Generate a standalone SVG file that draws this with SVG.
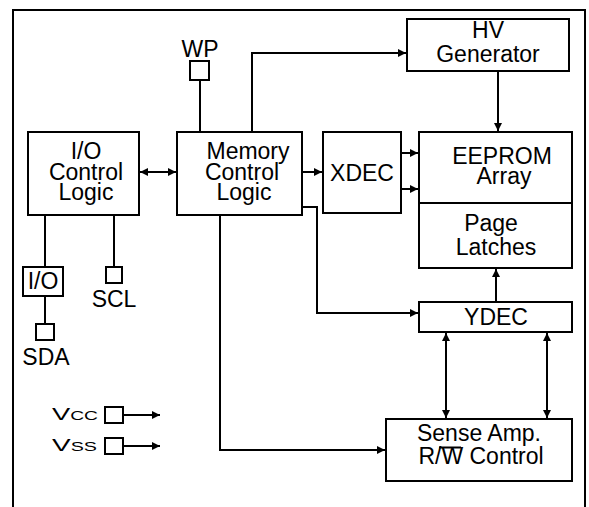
<svg xmlns="http://www.w3.org/2000/svg" width="589" height="507" viewBox="0 0 589 507">
<style>
.box{fill:#fff;stroke:#000;stroke-width:2}
.ln{fill:none;stroke:#000;stroke-width:2}
.t{font-family:"Liberation Sans",Arial,sans-serif;font-size:23px;fill:#000;text-anchor:middle}
.pw{font-family:"Liberation Sans",Arial,sans-serif;font-size:17px;fill:#000;font-variant:small-caps}
</style>
<defs>
<marker id="arr" viewBox="0 0 8 8" refX="8" refY="4" markerWidth="8" markerHeight="8" markerUnits="userSpaceOnUse" orient="auto-start-reverse">
<path d="M0,0 L8,4 L0,8 z" fill="#000"/>
</marker>
</defs>
<rect width="589" height="507" fill="#fff"/>
<path class="ln" d="M13,507 V10 H585 V507"/>
<g id="connectors">
<path class="ln" d="M200,81 V132"/>
<path class="ln" d="M252,132 V53 H406" marker-end="url(#arr)"/>
<path class="ln" d="M498,71 V131" marker-end="url(#arr)"/>
<path class="ln" d="M140,172 H176" marker-start="url(#arr)" marker-end="url(#arr)"/>
<path class="ln" d="M302,172 H322" marker-end="url(#arr)"/>
<path class="ln" d="M401,153 H418" marker-end="url(#arr)"/>
<path class="ln" d="M401,189 H418" marker-end="url(#arr)"/>
<path class="ln" d="M496,302 V269" marker-end="url(#arr)"/>
<path class="ln" d="M302,207 H317 V313 H418" marker-end="url(#arr)"/>
<path class="ln" d="M446,333 V418" marker-start="url(#arr)" marker-end="url(#arr)"/>
<path class="ln" d="M547,333 V418" marker-start="url(#arr)" marker-end="url(#arr)"/>
<path class="ln" d="M220,215 V450 H385" marker-end="url(#arr)"/>
<path class="ln" d="M45,215 V267"/>
<path class="ln" d="M45,296 V324"/>
<path class="ln" d="M114,215 V267"/>
<path class="ln" d="M123,415 H160" marker-end="url(#arr)"/>
<path class="ln" d="M123,446 H160" marker-end="url(#arr)"/>
</g>
<g id="wp"><rect class="box" x="190" y="61" width="19" height="19"/><text class="t" x="200" y="57">WP</text></g>
<g id="hv"><rect class="box" x="407" y="19" width="162" height="52"/><text class="t" x="488" y="38">HV</text><text class="t" x="488" y="62">Generator</text></g>
<g id="io-control"><rect class="box" x="28" y="132" width="111" height="83"/><text class="t" x="86" y="159">I/O</text><text class="t" x="86" y="179.5">Control</text><text class="t" x="86" y="200">Logic</text></g>
<g id="mem-control"><rect class="box" x="177" y="132" width="125" height="83"/><text class="t" x="248" y="158.5">Memory</text><text class="t" x="242" y="179.5">Control</text><text class="t" x="244" y="200">Logic</text></g>
<g id="xdec"><rect class="box" x="323" y="132" width="78" height="81"/><text class="t" x="362" y="181">XDEC</text></g>
<g id="eeprom"><rect class="box" x="419" y="132" width="153" height="71"/><text class="t" x="502" y="164">EEPROM</text><text class="t" x="504" y="184">Array</text></g>
<g id="page-latches"><rect class="box" x="419" y="203" width="153" height="65"/><text class="t" x="491" y="231">Page</text><text class="t" x="496" y="255">Latches</text></g>
<g id="ydec"><rect class="box" x="419" y="302" width="153" height="30"/><text class="t" x="496" y="325">YDEC</text></g>
<g id="sense"><rect class="box" x="386" y="419" width="186" height="62"/><text class="t" x="479" y="441">Sense Amp.</text><text class="t" x="481" y="463.5">R/W Control</text><line class="ln" x1="439" y1="447.5" x2="461" y2="447.5"/></g>
<g id="io-pin"><rect class="box" x="23" y="267" width="40" height="29"/><text class="t" x="43" y="289">I/O</text></g>
<g id="scl"><rect class="box" x="106" y="267" width="16" height="16"/><text class="t" x="114" y="307">SCL</text></g>
<g id="sda"><rect class="box" x="36" y="324" width="18" height="16"/><text class="t" x="46" y="365">SDA</text></g>
<g id="vcc"><rect class="box" x="105" y="407" width="18" height="16"/><text class="pw" x="52" y="420" textLength="46" lengthAdjust="spacingAndGlyphs">Vcc</text></g>
<g id="vss"><rect class="box" x="105" y="438" width="18" height="16"/><text class="pw" x="52" y="451" textLength="45" lengthAdjust="spacingAndGlyphs">Vss</text></g>
</svg>
